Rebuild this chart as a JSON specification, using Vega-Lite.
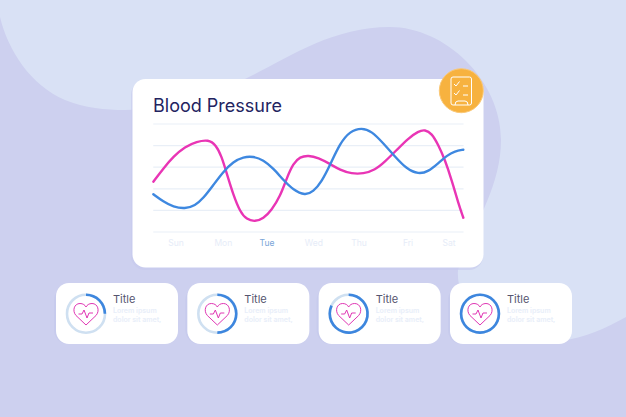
{"$schema":"https://vega.github.io/schema/vega-lite/v6.json","width":626,"height":417,"padding":0,"autosize":{"type":"none"},"background":"#d9e1f5","config":{"view":{"stroke":null}},
"datasets":{
"one":[{"k":1}],
"cards":[{"card":1,"title":"Title","line1":"Lorem ipsum","line2":"dolor sit amet,","start":0,"progress":0.25},{"card":2,"title":"Title","line1":"Lorem ipsum","line2":"dolor sit amet,","start":0,"progress":0.5},{"card":3,"title":"Title","line1":"Lorem ipsum","line2":"dolor sit amet,","start":0,"progress":0.82},{"card":4,"title":"Title","line1":"Lorem ipsum","line2":"dolor sit amet,","start":0,"progress":1}],
"grid":[{"value":0},{"value":20},{"value":40},{"value":60},{"value":80},{"value":100}],
"days":[{"d":0,"label":"Sun"},{"d":1.04,"label":"Mon"},{"d":2,"label":"Tue"},{"d":3.03,"label":"Wed"},{"d":4.02,"label":"Thu"},{"d":5.1,"label":"Fri"},{"d":6,"label":"Sat"}],
"series":[
{"s":"Pink","d":-0.498,"v":46.6},{"s":"Pink","d":-0.278,"v":58.9},{"s":"Pink","d":-0.059,"v":69.8},{"s":"Pink","d":0.198,"v":79.0},{"s":"Pink","d":0.454,"v":83.6},{"s":"Pink","d":0.711,"v":85.6},{"s":"Pink","d":0.879,"v":80.6},{"s":"Pink","d":1.004,"v":69.8},{"s":"Pink","d":1.114,"v":54.3},{"s":"Pink","d":1.26,"v":34.3},{"s":"Pink","d":1.407,"v":18.8},{"s":"Pink","d":1.553,"v":11.5},{"s":"Pink","d":1.736,"v":9.6},{"s":"Pink","d":1.919,"v":12.2},{"s":"Pink","d":2.103,"v":20.4},{"s":"Pink","d":2.286,"v":32.7},{"s":"Pink","d":2.432,"v":49.7},{"s":"Pink","d":2.579,"v":63.6},{"s":"Pink","d":2.725,"v":69.6},{"s":"Pink","d":2.908,"v":71.0},{"s":"Pink","d":3.128,"v":68.8},{"s":"Pink","d":3.385,"v":63.0},{"s":"Pink","d":3.604,"v":57.4},{"s":"Pink","d":3.861,"v":53.9},{"s":"Pink","d":4.117,"v":53.9},{"s":"Pink","d":4.374,"v":57.4},{"s":"Pink","d":4.593,"v":65.1},{"s":"Pink","d":4.85,"v":75.9},{"s":"Pink","d":5.106,"v":86.7},{"s":"Pink","d":5.326,"v":93.3},{"s":"Pink","d":5.473,"v":94.8},{"s":"Pink","d":5.619,"v":91.4},{"s":"Pink","d":5.766,"v":80.6},{"s":"Pink","d":5.912,"v":66.7},{"s":"Pink","d":6.059,"v":48.1},{"s":"Pink","d":6.205,"v":26.5},{"s":"Pink","d":6.315,"v":13.2},
{"s":"Blue","d":-0.498,"v":34.9},{"s":"Blue","d":-0.278,"v":28.1},{"s":"Blue","d":-0.059,"v":23.2},{"s":"Blue","d":0.198,"v":21.4},{"s":"Blue","d":0.418,"v":24.4},{"s":"Blue","d":0.601,"v":31.2},{"s":"Blue","d":0.821,"v":43.5},{"s":"Blue","d":1.04,"v":55.9},{"s":"Blue","d":1.26,"v":65.1},{"s":"Blue","d":1.48,"v":69.6},{"s":"Blue","d":1.7,"v":70.1},{"s":"Blue","d":1.919,"v":66.7},{"s":"Blue","d":2.139,"v":58.9},{"s":"Blue","d":2.359,"v":48.1},{"s":"Blue","d":2.579,"v":38.9},{"s":"Blue","d":2.835,"v":33.7},{"s":"Blue","d":3.018,"v":37.3},{"s":"Blue","d":3.201,"v":46.6},{"s":"Blue","d":3.385,"v":62.0},{"s":"Blue","d":3.604,"v":82.1},{"s":"Blue","d":3.824,"v":93.3},{"s":"Blue","d":4.081,"v":96.6},{"s":"Blue","d":4.3,"v":93.3},{"s":"Blue","d":4.557,"v":82.1},{"s":"Blue","d":4.813,"v":69.8},{"s":"Blue","d":5.07,"v":58.3},{"s":"Blue","d":5.326,"v":53.5},{"s":"Blue","d":5.546,"v":55.9},{"s":"Blue","d":5.766,"v":63.6},{"s":"Blue","d":5.949,"v":70.7},{"s":"Blue","d":6.132,"v":75.0},{"s":"Blue","d":6.315,"v":76.2}
]},
"resolve":{"scale":{"x":"independent","y":"independent"}},
"layer":[
{"data":{"name":"one"},"mark":{"type":"point","filled":true,"opacity":1,"fill":"#cdd0ef","strokeWidth":0,"size":4,"shape":"M0 17 C8 50 30 85 65 100 C85 108 105 110 125 110 C165 110 210 95 245 79 C285 60 330 27 390 27 C445 27 501 80 501 140 C501 190 470 230 458 270 C455 310 500 345 560 341 C585 338 606 328 626 317 L626 417 L0 417 Z"},"encoding":{"x":{"value":0},"y":{"value":0}}},
{"data":{"name":"one"},"mark":{"type":"rect","fill":"#c6caed","opacity":0.6,"cornerRadius":14},"encoding":{"x":{"value":131},"x2":{"value":483},"y":{"value":81},"y2":{"value":270}}},
{"data":{"name":"one"},"mark":{"type":"rect","fill":"#ffffff","cornerRadius":13},"encoding":{"x":{"value":132.5},"x2":{"value":483.5},"y":{"value":79},"y2":{"value":267.5}}},
{"data":{"name":"one"},"mark":{"type":"text","text":"Blood Pressure","font":"Inter","fontSize":18,"fontWeight":400,"fill":"#23235f","align":"left","baseline":"alphabetic"},"encoding":{"x":{"value":153},"y":{"value":112}}},
{"data":{"name":"one"},"mark":{"type":"point","filled":true,"opacity":1,"fill":"#f7b23f","stroke":"#fac877","strokeWidth":1,"size":1936,"shape":"circle"},"encoding":{"x":{"value":461.3},"y":{"value":90.7}}},
{"data":{"name":"one"},"mark":{"type":"point","filled":false,"opacity":1,"stroke":"#ffffff","strokeWidth":1,"size":4,"shape":"M453 77 H469.5 Q471.5 77 471.5 79 V103 Q471.5 105 469.5 105 H453 Q451 105 451 103 V79 Q451 77 453 77 Z M454 84 L456 86 L459.5 81.5 M463 86 H468 M454 93 L456 95 L459.5 90.5 M463 95 H468 M455 105 Q455 101 458 101 H465 Q468 101 468 105"},"encoding":{"x":{"value":0},"y":{"value":0}}},
{"layer":[
{"data":{"name":"grid"},"mark":{"type":"rule","stroke":"#e9eff7","strokeWidth":1.2},"encoding":{"x":{"datum":-0.5,"type":"quantitative","axis":null,"scale":{"domain":[-3.868,9.89],"nice":false,"zero":false}},"x2":{"datum":6.32},"y":{"field":"value","type":"quantitative","axis":null,"scale":{"domain":[-171.3,214.8],"nice":false,"zero":false}}}},
{"data":{"name":"days"},"mark":{"type":"text","font":"Inter","fontSize":8.5,"align":"center","baseline":"middle"},"encoding":{"x":{"field":"d","type":"quantitative","axis":null,"scale":{"domain":[-3.868,9.89],"nice":false,"zero":false}},"y":{"value":243},"text":{"field":"label"},"color":{"condition":{"test":"datum.label==='Tue'","value":"#7aa5d8"},"value":"#e6ecf8"}}},
{"data":{"name":"series"},"mark":{"type":"line","interpolate":"basis","strokeWidth":2.4,"strokeCap":"round"},"encoding":{"x":{"field":"d","type":"quantitative","axis":null,"scale":{"domain":[-3.868,9.89],"nice":false,"zero":false}},"y":{"field":"v","type":"quantitative","axis":null,"scale":{"domain":[-171.3,214.8],"nice":false,"zero":false}},"color":{"field":"s","type":"nominal","legend":null,"scale":{"domain":["Pink","Blue"],"range":["#e935b5","#3e88e0"]}},"order":{"field":"d","type":"quantitative"}}}
]},
{"data":{"name":"cards"},"encoding":{"x":{"field":"card","type":"ordinal","axis":null,"scale":{"domain":[1,2,3,4],"range":[56,572],"paddingInner":0.071,"paddingOuter":0}}},
"layer":[
{"mark":{"type":"rect","fill":"#c2c6ec","cornerRadius":14,"xOffset":-2,"yOffset":3,"opacity":0.45},"encoding":{"y":{"value":283},"y2":{"value":344}}},
{"mark":{"type":"rect","fill":"#ffffff","cornerRadius":13},"encoding":{"y":{"value":283},"y2":{"value":344}}},
{"mark":{"type":"point","filled":false,"opacity":1,"shape":"circle","stroke":"#cfe0f1","strokeWidth":2.6,"size":1444,"xOffset":-31},"encoding":{"y":{"value":313.7}}},
{"mark":{"type":"arc","fill":"#3d86de","radius":20.2,"radius2":17.6,"xOffset":-31},"encoding":{"y":{"value":313.7},"theta":{"field":"start","type":"quantitative","stack":null,"scale":{"domain":[0,1],"range":[0,6.2832]}},"theta2":{"field":"progress"}}},
{"mark":{"type":"point","filled":false,"opacity":1,"stroke":"#e036b4","strokeWidth":1,"size":4,"xOffset":-31,"shape":"M0 11 L-10 1.5 C-14 -3 -12 -10.5 -6 -10.5 C-3 -10.5 -1 -9 0 -7 C1 -9 3 -10.5 6 -10.5 C12 -10.5 14 -3 10 1.5 Z M-7.5 0 H-4 L-2 -4 L1 4 L3 -1 H7"},"encoding":{"y":{"value":314}}},
{"mark":{"type":"text","font":"Inter","fontSize":11,"fill":"#55556f","align":"left","baseline":"middle","xOffset":-4},"encoding":{"y":{"value":300},"text":{"field":"title"}}},
{"mark":{"type":"text","font":"Inter","fontSize":7,"fontWeight":600,"fill":"#e8eef9","align":"left","baseline":"middle","xOffset":-4},"encoding":{"y":{"value":311.3},"text":{"field":"line1"}}},
{"mark":{"type":"text","font":"Inter","fontSize":7,"fontWeight":600,"fill":"#e8eef9","align":"left","baseline":"middle","xOffset":-4},"encoding":{"y":{"value":320.3},"text":{"field":"line2"}}}
]}
]}
